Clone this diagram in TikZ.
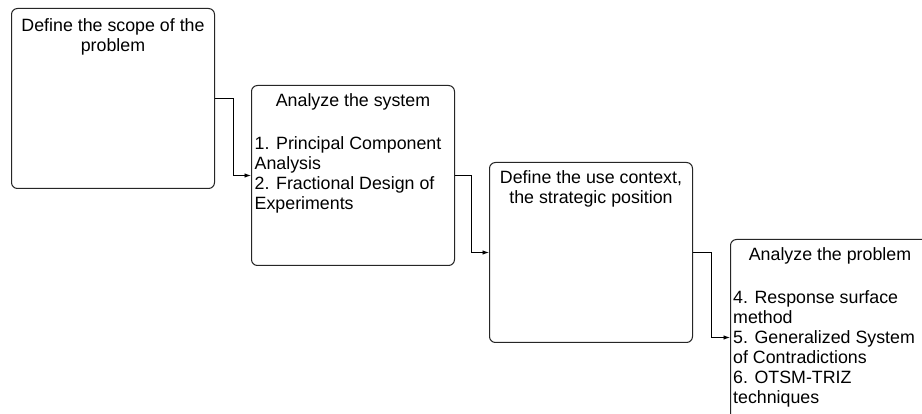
\documentclass[tikz,border=0pt]{standalone}
\usepackage{fontspec}
\setmainfont{Liberation Sans}
\usetikzlibrary{arrows.meta,calc}
\tikzset{
  box/.style={draw=black!85, line width=1pt, rounded corners=6pt, minimum width=203pt, inner sep=0pt, anchor=north west},
  txt/.style={inner sep=0pt, font=\fontsize{17.8pt}{20pt}\selectfont, text=black},
  flow/.style={draw=black, line width=0.9pt, -{Latex[length=6.5pt,width=4.5pt]}}
}
\begin{document}
\begin{tikzpicture}[x=1pt,y=1pt]
\useasboundingbox (0,0) rectangle (922,-414);
\fill[white] (0,0) rectangle (922,-414);
\clip (0,0) rectangle (922,-414);

\node[box, minimum height=180pt] (b1) at (11,-8) {};
\node[box, minimum height=180pt] (b2) at (251,-85) {};
\node[box, minimum height=180pt] (b3) at (489,-162) {};
\node[box, minimum height=196pt] (b4) at (730,-239) {};

\node[txt, anchor=north, align=center] (t1) at ($(b1.north)+(0,-10)$) {Define the scope of the\\problem};
\node[txt, anchor=north, align=center] (t2) at ($(b2.north)+(0,-8.5)$) {Analyze the system};
\node[txt, anchor=north west, align=left] (l2) at ($(b2.north west)+(3.5,-51.5)$) {1. Principal Component\\Analysis\\2. Fractional Design of\\Experiments};
\node[txt, anchor=north, align=center] (t3) at ($(b3.north)+(0,-8.5)$) {Define the use context,\\the strategic position};
\node[txt, anchor=north, align=center] (t4) at ($(b4.north)+(-2,-8)$) {Analyze the problem};
\node[txt, anchor=north west, align=left] (l4) at ($(b4.north west)+(3,-51.5)$) {4. Response surface\\method\\5. Generalized System\\of Contradictions\\6. OTSM-TRIZ\\techniques};

\draw[flow] (b1.east) -- ++(18,0) |- (b2.west);
\draw[flow] (b2.east) -- ++(16,0) |- (b3.west);
\draw[flow] (b3.east) -- ++(18,0) |- (b4.west);
\end{tikzpicture}
\end{document}
